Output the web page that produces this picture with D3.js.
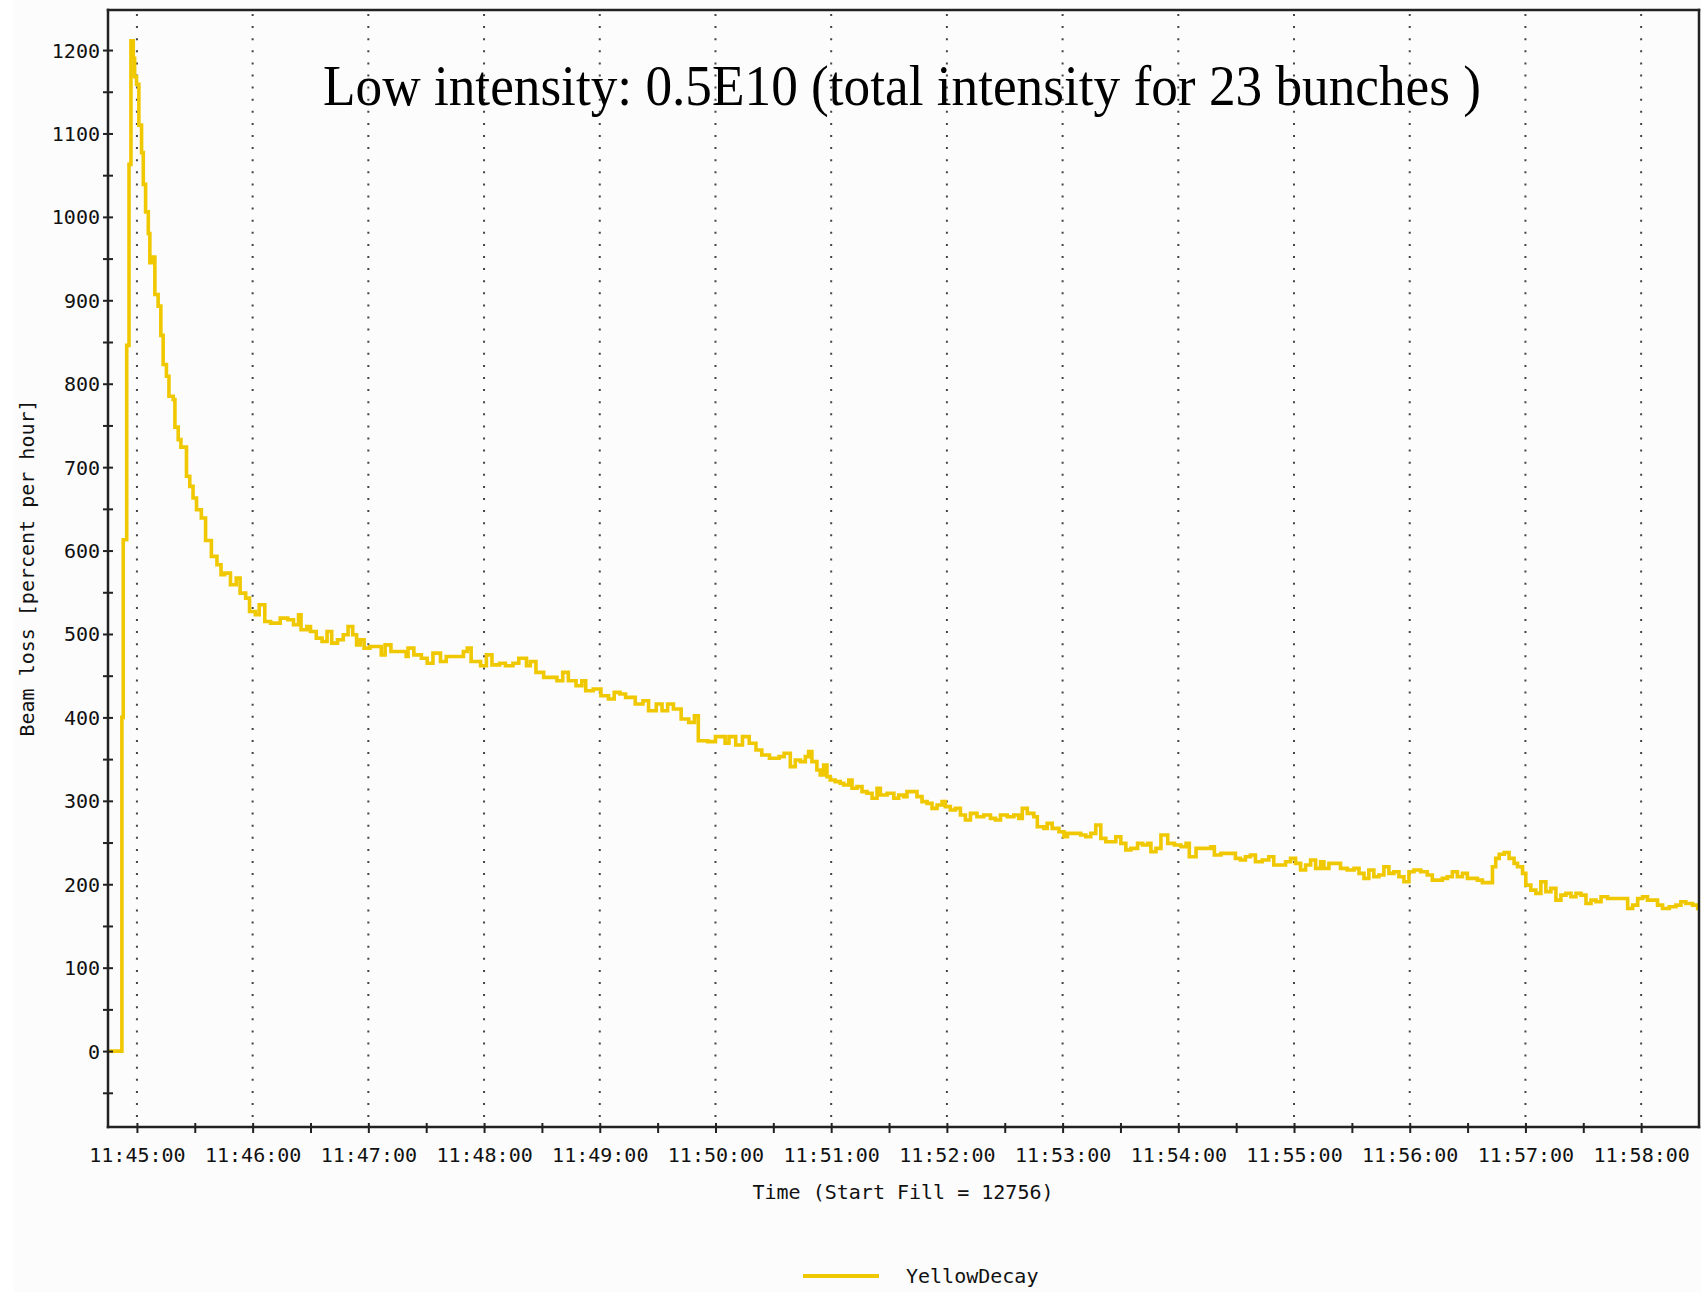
<!DOCTYPE html>
<html>
<head>
<meta charset="utf-8">
<script src="https://cdn.jsdelivr.net/npm/d3@7"></script>
<style>
  html, body { margin: 0; padding: 0; background: #fff; overflow: hidden; }
  svg { display: block; }
  svg text.mono { font-family: "DejaVu Sans Mono", monospace; font-size: 20px; fill: #111; }
</style>
</head>
<body>
<div id="mysvg"></div>
<script>
// readings taken off the plot: [seconds after 11:45:00, beam loss %/h]
var injection = [[-15, 0], [-7.8, 400], [-7.1, 613], [-5.3, 846], [-4.1, 1063], [-3.1, 1211],
  [-1.9, 1190], [-1.2, 1168], [-0.2, 1159]];
var fastDecay = [[1.0, 1110], [2.4, 1077], [3.3, 1039], [4.5, 1006], [5.9, 980], [6.7, 945], [8.4, 952],
  [9.3, 907], [11.0, 893], [12.4, 858], [13.6, 823], [15.3, 809], [16.6, 785], [18.8, 781], [19.7, 748],
  [21.4, 733], [22.8, 724], [25.7, 689], [27.4, 677], [29.1, 663], [30.9, 649], [33.4, 639], [35.6, 612]];
var minute1 = [[38.6, 593], [41.5, 583], [43.6, 571], [45.5, 573], [48.5, 559], [51.5, 567], [53.5, 549],
  [56.4, 543], [58.4, 527], [61.4, 523], [63.4, 535], [66.3, 515], [69.3, 513], [74.3, 519], [78.2, 517],
  [81.2, 511], [83.8, 523], [85.1, 505], [88.1, 509], [90, 503], [93, 495], [96, 491], [98.6, 503],
  [101, 489], [104, 493], [107, 499], [109.5, 509], [111.9, 499], [113.9, 487], [115.8, 493], [117.8, 483]];
var minute2 = [[120.8, 485], [123.8, 485], [126.7, 475], [128.7, 487], [131.7, 479], [135.6, 479],
  [139.6, 473], [140.6, 483], [143.6, 475], [147.5, 471], [150.5, 465], [153.5, 477], [157.4, 467],
  [160.4, 473], [165.3, 473], [169.3, 479], [171.3, 483], [173.3, 467], [178.2, 462], [181.2, 475],
  [184.1, 463], [188.1, 465], [191.1, 462], [195, 465], [198, 471], [202, 462], [204, 467], [206.9, 454],
  [210.9, 448], [214.8, 448], [217.8, 444], [220.8, 454], [223.7, 444], [227.7, 438], [230.7, 444],
  [232.7, 432], [236.6, 434]];
var minute4 = [[240.6, 426], [244.5, 422], [247.5, 430], [250.5, 428], [253.4, 424], [258.4, 416],
  [262.4, 420], [265.3, 408], [269.3, 416], [272.3, 408], [275.2, 416], [278.2, 410], [282.2, 398],
  [286.1, 394], [289.1, 402], [291.1, 372], [296, 371], [300, 377], [305, 369], [307, 377], [310.5, 367],
  [314, 377], [317.5, 369], [321, 361], [324, 355], [328, 351], [333, 353], [335.6, 357], [338.8, 341],
  [341.4, 349], [344, 347], [346.6, 353], [348.3, 359], [350, 347], [352.6, 337], [354.3, 331],
  [356.1, 343], [357.8, 329]];
var minute6 = [[359.5, 325], [362.1, 323], [364.7, 321], [366.5, 319], [369.1, 325], [370.8, 315],
  [373.4, 317], [376, 311], [378.6, 309], [381.2, 303], [383.8, 315], [385.5, 307], [389, 309],
  [392.5, 303], [395, 307], [397.6, 305], [399.3, 311], [401.9, 311], [404.5, 305], [407.1, 299],
  [409.7, 297], [412.3, 291], [414.9, 295], [417.5, 299], [419.2, 293], [421.8, 289], [424.4, 291],
  [427, 283], [429.6, 277], [432.2, 285], [435.6, 281], [439.1, 283], [442.6, 279], [445.2, 277],
  [447.8, 283], [451.3, 281], [454.7, 283], [457.3, 279], [459.1, 291], [461.7, 285], [465.1, 281],
  [466.9, 269], [470.3, 267], [472, 273], [474.6, 267], [478.1, 263]];
var minute8 = [[480.7, 257], [482.5, 261], [485.9, 261], [489.4, 259], [492, 257], [494.6, 261],
  [497.2, 271], [499.8, 255], [502.4, 251], [505, 251], [507.6, 257], [510.2, 249], [512.8, 241],
  [515.4, 243], [518.9, 249], [521.5, 247], [524.1, 249], [525.8, 239], [528.4, 243], [531, 259],
  [534.5, 249], [538, 247], [541.4, 245], [544, 249], [545.7, 233], [549.2, 243], [552.6, 243],
  [556.9, 245], [558.7, 235], [562.1, 237], [565.6, 237], [569.6, 231], [572.2, 229], [574.8, 233],
  [577.4, 235], [580, 227], [583.5, 229], [586.9, 233], [589.5, 223], [593, 223], [595.6, 227], [598.2, 231]];
var minute10 = [[600.8, 225], [603.4, 217], [606, 223], [608.6, 229], [611.2, 219], [613.8, 227],
  [615.5, 219], [618.1, 225], [621.5, 225], [624.1, 219], [627.6, 217], [631.1, 219], [633.7, 213],
  [636.3, 207], [638.8, 217], [641.4, 209], [644, 211], [646.6, 221], [649.2, 213], [651.8, 215],
  [654.4, 209], [657, 203], [659.6, 215], [662.2, 217], [665.7, 215], [669.1, 211], [671.7, 205],
  [676.9, 207], [679.5, 209], [682.1, 215], [684.7, 209], [687.3, 213], [689.9, 207], [695.1, 205],
  [697.7, 202], [702.9, 221], [704.6, 231], [706.4, 236], [709, 238], [711.5, 231], [714.1, 225],
  [715.9, 221], [718.5, 213]];
var minute12 = [[720.2, 199], [722.8, 193], [725.4, 189], [728, 203], [730.6, 191], [733.2, 195],
  [735.8, 181], [738.4, 187], [741, 189], [743.6, 185], [746.2, 189], [748.8, 187], [751.4, 177],
  [754, 181], [756.6, 179], [759.2, 185], [762.6, 183], [773, 171], [775.6, 175], [778.2, 183],
  [780.8, 185], [783.3, 181], [788.5, 175], [791.1, 171], [794.6, 173], [798, 175], [800.6, 179],
  [803.2, 177], [806.7, 175], [809.3, 171], [815, 171]];

var yMajor = [0, 100, 200, 300, 400, 500, 600, 700, 800, 900, 1000, 1100, 1200];
var titleText = "Low intensity: 0.5E10 (total intensity for 23 bunches )";
var xLabel = "Time (Start Fill = 12756)";
var yLabel = "Beam loss [percent per hour]";
var seriesName = "YellowDecay";

var series = [].concat(injection, fastDecay, minute1, minute2, minute4, minute6, minute8, minute10, minute12);

// set the dimensions and margins of the graph
var w = 1701;
var h = 1292;
var margin = {top: 10, right: 2, bottom: 165, left: 108};
var innerWidth = w - margin.left - margin.right;
var innerHeight = h - margin.top - margin.bottom;

var base = new Date(2008, 0, 1, 11, 45, 0);
var toDate = function (s) { return new Date(base.getTime() + s * 1000); };

var svg = d3.select("#mysvg")
  .append("svg")
    .attr("width", w)
    .attr("height", h);

svg.append("rect")
   .attr("x", 0).attr("y", 0)
   .attr("width", w).attr("height", h)
   .attr("fill", "#ffffff");
svg.append("rect")
   .attr("x", 14).attr("y", 0)
   .attr("width", w - 14).attr("height", h)
   .attr("fill", "#fcfcfc");

var xScale = d3.scaleTime()
  .domain([toDate(-15), toDate(810)])
  .range([0, innerWidth]);

var yScale = d3.scaleLinear()
  .domain([-91, 1248])
  .range([innerHeight, 0]);

var g = svg.append("g")
  .attr("transform", `translate (${margin.left}, ${margin.top})`);

var minuteTicks = d3.timeMinute.range(toDate(0), toDate(781));
var halfTicks = d3.timeSecond.every(30).range(toDate(0), toDate(781));

// dotted vertical grid
g.append("g")
  .selectAll("line")
  .data(minuteTicks)
  .enter().append("line")
    .attr("x1", d => xScale(d))
    .attr("x2", d => xScale(d))
    .attr("y1", 4)
    .attr("y2", innerHeight)
    .attr("stroke", "#444")
    .attr("stroke-width", 2)
    .attr("stroke-dasharray", "2 10.1");

// the decay curve
svg.append("clipPath").attr("id", "plotclip")
  .append("rect")
    .attr("x", 0).attr("y", 0)
    .attr("width", innerWidth).attr("height", innerHeight);

var line = d3.line()
  .x(d => xScale(toDate(d[0])))
  .y(d => yScale(d[1]))
  .curve(d3.curveStepAfter);

g.append("path")
  .datum(series)
  .attr("clip-path", "url(#plotclip)")
  .attr("d", line)
  .attr("fill", "none")
  .attr("stroke", "#f0c800")
  .attr("stroke-width", 3.6)
  .attr("stroke-linejoin", "miter");

// axes
var xAxis = d3.axisBottom(xScale)
  .tickValues(halfTicks)
  .tickSizeOuter(0)
  .tickFormat(d => d3.timeFormat("%H:%M:%S")(d));

var yAxis = d3.axisLeft(yScale)
  .tickValues(d3.range(-50, 1201, 50))
  .tickSizeOuter(0)
  .tickFormat(d3.format("d"));

var gx = g.append("g")
  .attr("class", "xAxis")
  .attr("transform", `translate (0, ${innerHeight})`)
  .call(xAxis);
gx.selectAll(".tick line").attr("y1", -4).attr("y2", 6).attr("stroke", "#222").attr("stroke-width", 2);
gx.selectAll(".tick text")
  .filter(d => d.getSeconds() !== 0).remove();
gx.selectAll(".tick text")
  .attr("class", "mono")
  .attr("y", 28).attr("dy", "0.35em");

var gy = g.append("g")
  .attr("class", "yAxis")
  .call(yAxis);
gy.selectAll(".tick line").attr("x1", 5).attr("x2", -5).attr("stroke", "#222").attr("stroke-width", 2);
gy.selectAll(".tick text")
  .filter(d => yMajor.indexOf(d) < 0).remove();
gy.selectAll(".tick text")
  .attr("class", "mono")
  .attr("x", -8).attr("dy", "0.35em");

svg.selectAll(".domain").remove();
svg.selectAll(".xAxis, .yAxis").attr("font-family", null).attr("font-size", null);

// frame
var frame = [[0, 0, 0, innerHeight], [0, innerHeight, innerWidth, innerHeight],
             [0, 0, innerWidth, 0], [innerWidth, 0, innerWidth, innerHeight]];
g.append("g")
  .selectAll("line")
  .data(frame)
  .enter().append("line")
    .attr("x1", d => d[0]).attr("y1", d => d[1])
    .attr("x2", d => d[2]).attr("y2", d => d[3])
    .attr("stroke", "#222")
    .attr("stroke-width", 2.5)
    .attr("stroke-linecap", "square");

// texts
svg.append("text")
  .attr("x", 323)
  .attr("y", 105)
  .attr("textLength", 1158)
  .attr("lengthAdjust", "spacingAndGlyphs")
  .style("font-family", "'Liberation Serif', 'Times New Roman', serif")
  .style("font-size", "56px")
  .attr("fill", "#000")
  .text(titleText);

svg.append("text")
  .attr("class", "mono")
  .attr("text-anchor", "middle")
  .attr("x", 903)
  .attr("y", 1192)
  .attr("dy", "0.35em")
  .text(xLabel);

svg.append("text")
  .attr("class", "mono")
  .attr("text-anchor", "middle")
  .attr("dy", "0.35em")
  .attr("transform", "translate(27, 568) rotate(-90)")
  .text(yLabel);

// legend
svg.append("line")
  .attr("x1", 803).attr("x2", 879)
  .attr("y1", 1276).attr("y2", 1276)
  .attr("stroke", "#f0c800")
  .attr("stroke-width", 4);
svg.append("text")
  .attr("class", "mono")
  .attr("x", 906)
  .attr("y", 1276)
  .attr("dy", "0.35em")
  .text(seriesName);
</script>
</body>
</html>
